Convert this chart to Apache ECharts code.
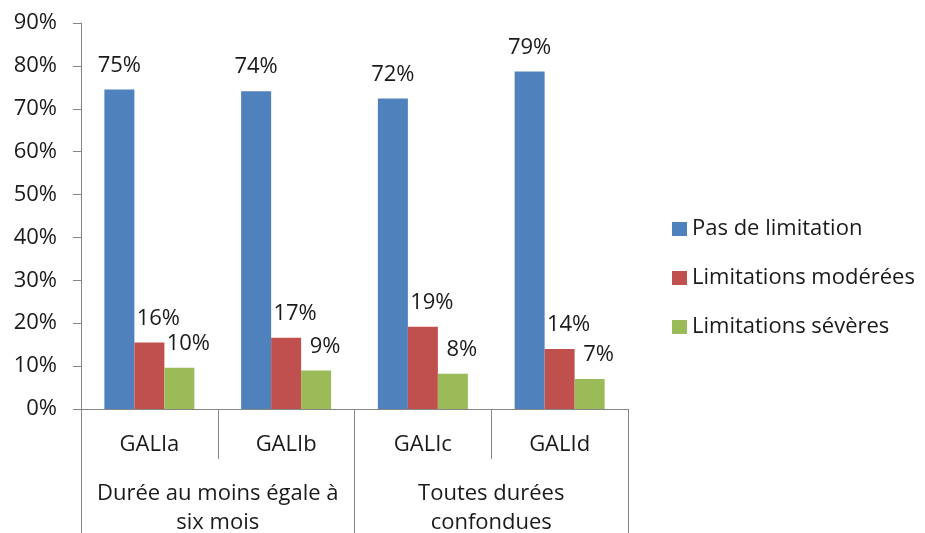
<!DOCTYPE html>
<html><head><meta charset="utf-8">
<script src="https://cdn.jsdelivr.net/npm/echarts@6/dist/echarts.min.js"></script>
<style>html,body{margin:0;padding:0;background:#fff}#c{width:925px;height:533px}</style>
</head><body><div id="c"></div>
<script>
const categories = ['GALIa', 'GALIb', 'GALIc', 'GALId'];
const groups = ['Durée au moins égale à\nsix mois', 'Toutes durées\nconfondues'];
const seriesNames = ['Pas de limitation', 'Limitations modérées', 'Limitations sévères'];
const pasDeLimitation = [74.5, 74.1, 72.4, 78.7];
const limitationsModerees = [15.5, 16.6, 19.2, 14.0];
const limitationsSeveres = [9.6, 9.0, 8.2, 7.0];
const yMin = 0, yMax = 90, yStep = 10;

const FONT = 'Open Sans';
const FS = 22;
const TXT = '#1a1a1a';
const AXIS = '#868686';
const colors = ['#4F81BD', '#C0504D', '#9BBB59'];

function mkSeries(name, data, color, offset) {
  return {
    name: name, type: 'bar', data: data, barWidth: 30, barGap: '0%',
    itemStyle: { color: color },
    label: {
      show: true, position: 'top', distance: 13, offset: offset,
      formatter: p => Math.round(p.value) + '%',
      fontFamily: FONT, fontSize: FS, color: TXT
    }
  };
}

const chart = echarts.init(document.getElementById('c'));
chart.setOption({
  backgroundColor: '#ffffff',
  animation: false,
  grid: { left: 81, right: 297, top: 23, bottom: 124, outerBoundsMode: 'none', containLabel: false },
  legend: {
    orient: 'vertical', left: 667, top: 213, itemWidth: 15, itemHeight: 14, itemGap: 27,
    icon: 'rect',
    textStyle: { fontFamily: FONT, fontSize: FS, color: TXT },
    data: seriesNames
  },
  xAxis: [{
    type: 'category', data: categories, position: 'bottom',
    axisLine: { lineStyle: { color: AXIS } },
    axisTick: { show: true, length: 50, lineStyle: { color: AXIS } },
    axisLabel: { margin: 25, fontFamily: FONT, fontSize: FS, color: TXT, interval: 0 }
  }, {
    type: 'category', data: groups, position: 'bottom', gridIndex: 0,
    axisLine: { show: false },
    axisTick: { show: true, length: 124, lineStyle: { color: AXIS } },
    axisLabel: { margin: 70, fontFamily: FONT, fontSize: FS, color: TXT, interval: 0, lineHeight: 29 }
  }],
  yAxis: {
    type: 'value', min: yMin, max: yMax, interval: yStep,
    axisLine: { show: true, lineStyle: { color: AXIS } },
    axisTick: { show: true, length: 8, lineStyle: { color: AXIS } },
    splitLine: { show: false },
    axisLabel: { formatter: '{value}%', margin: 24, fontFamily: FONT, fontSize: FS, color: TXT }
  },
  series: [
    mkSeries(seriesNames[0], pasDeLimitation, colors[0], [0, 0]),
    mkSeries(seriesNames[1], limitationsModerees, colors[1], [9, 0]),
    mkSeries(seriesNames[2], limitationsSeveres, colors[2], [9, 0])
  ]
});
</script></body></html>
